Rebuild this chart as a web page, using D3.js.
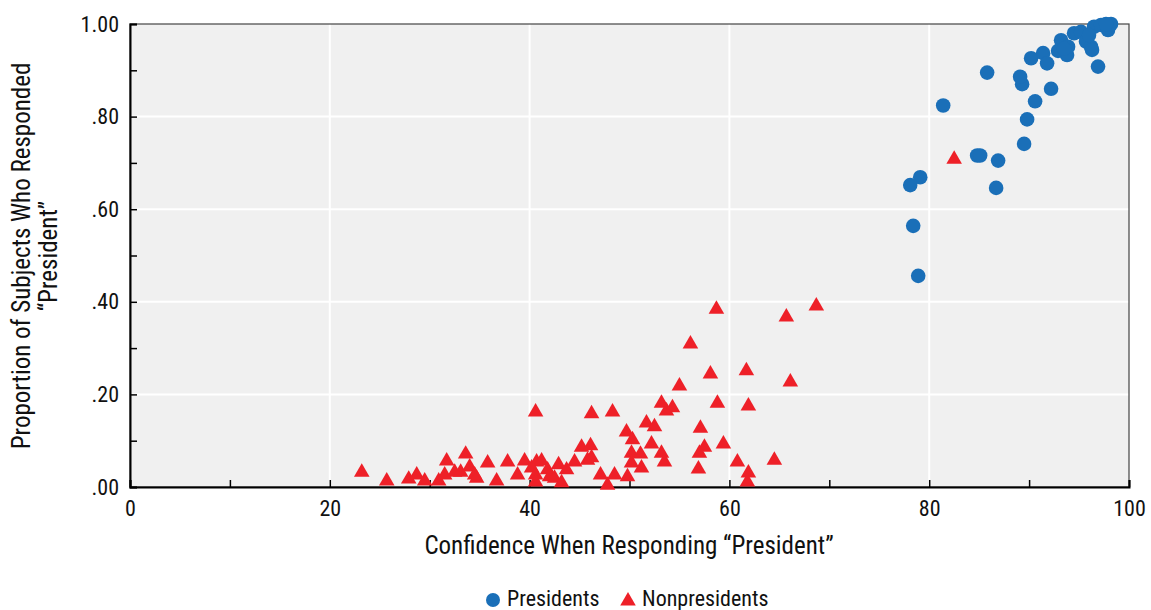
<!DOCTYPE html>
<html><head><meta charset="utf-8">
<script src="https://cdn.jsdelivr.net/npm/d3@7"></script>
<style>body{margin:0;background:#fff}svg{display:block}text{font-family:"Liberation Sans Narrow","Arial Narrow","Roboto Condensed","Liberation Sans",sans-serif;fill:#111}</style>
</head><body><svg id="c" width="1151" height="610"></svg>
<script>
const xTicks=[0,20,40,60,80,100];
const yTicks=[0,0.2,0.4,0.6,0.8,1.0];
const yTickLabels=[".00",".20",".40",".60",".80","1.00"];
const presX=[81.4,84.8,85.1,86.9,86.7,79.1,78.1,78.4,78.9,89.5,89.8,90.6,89.3,85.8,89.1,92.2,90.2,91.4,91.8,93.2,92.9,93.8,93.9,93.5,94.5,95.2,95.7,96.2,96.3,96.9,96.5,97.2,97.9,98.2,97.7,96.0];
const presY=[0.824,0.716,0.716,0.705,0.646,0.669,0.652,0.564,0.456,0.741,0.794,0.833,0.870,0.895,0.886,0.860,0.926,0.937,0.915,0.965,0.942,0.933,0.951,0.947,0.980,0.983,0.962,0.951,0.944,0.908,0.994,0.998,0.987,1.0,1.0,0.976];
const nonX=[23.2,25.7,27.9,28.7,29.5,30.9,31.5,31.7,32.5,33.1,33.6,34.0,34.5,34.7,35.8,36.7,37.8,38.8,39.5,40.2,40.6,40.7,41.2,40.6,40.6,41.8,42.0,42.9,42.5,43.2,43.7,44.5,45.2,45.8,46.1,46.2,46.2,47.1,47.8,48.3,48.5,49.7,49.8,50.2,50.3,50.2,51.1,51.2,51.7,52.2,52.5,53.2,53.2,53.5,53.7,54.3,55.0,56.1,56.9,57.0,57.1,57.5,58.1,58.7,58.8,59.4,60.8,61.7,61.9,61.9,61.8,64.5,65.7,66.1,68.7,82.5];
const nonY=[0.032,0.013,0.017,0.026,0.013,0.013,0.026,0.056,0.032,0.032,0.071,0.043,0.026,0.019,0.052,0.013,0.054,0.026,0.056,0.041,0.162,0.054,0.056,0.026,0.011,0.037,0.022,0.048,0.019,0.009,0.037,0.054,0.086,0.058,0.089,0.158,0.063,0.026,0.004,0.162,0.026,0.119,0.022,0.073,0.102,0.052,0.071,0.041,0.138,0.093,0.130,0.181,0.073,0.054,0.164,0.171,0.218,0.309,0.039,0.073,0.127,0.086,0.244,0.384,0.181,0.093,0.054,0.251,0.175,0.030,0.011,0.058,0.367,0.227,0.391,0.708];
const seriesNames=["Presidents","Nonpresidents"];
const colors=["#1a6fb8","#ee2028"];

const svg=d3.select("#c");
const L=130,R=1129,T=24,B=487;
const x=d3.scaleLinear().domain([0,100]).range([L,R]);
const y=d3.scaleLinear().domain([0,1]).range([B,T]);

svg.append("rect").attr("x",L).attr("y",T).attr("width",R-L).attr("height",B-T).attr("fill","#f0f0f0");
svg.append("g").selectAll("line").data(xTicks.filter(d=>d>0&&d<100)).join("line")
  .attr("x1",d=>x(d)).attr("x2",d=>x(d)).attr("y1",T).attr("y2",B).attr("stroke","#fff").attr("stroke-width",2);
svg.append("g").selectAll("line").data(yTicks.filter(d=>d>0&&d<1)).join("line")
  .attr("y1",d=>y(d)).attr("y2",d=>y(d)).attr("x1",L).attr("x2",R).attr("stroke","#fff").attr("stroke-width",2);
svg.append("rect").attr("x",L).attr("y",T).attr("width",R-L).attr("height",B-T).attr("fill","none").attr("stroke","#444").attr("stroke-width",1.2);

const xa=svg.append("g").attr("transform",`translate(0,${B})`)
  .call(d3.axisBottom(x).tickValues(d3.range(0,101,10)).tickSize(-7).tickPadding(13).tickFormat(d=>xTicks.includes(d)?d:""));
const ya=svg.append("g").attr("transform",`translate(${L},0)`)
  .call(d3.axisLeft(y).tickValues(d3.range(0,1.001,0.1)).tickSize(-7).tickPadding(11)
  .tickFormat(d=>{const i=yTicks.findIndex(t=>Math.abs(t-d)<1e-6);return i>=0?yTickLabels[i]:"";}));
[xa,ya].forEach(g=>{g.select(".domain").attr("stroke","#000").attr("stroke-width",2);
  g.selectAll(".tick line").attr("stroke","#000").attr("stroke-width",1.5);
  g.selectAll("text").attr("font-size",22).style("fill","#111");});

svg.append("g").selectAll("path").data(nonX.map((v,i)=>[v,nonY[i]])).join("path")
  .attr("transform",d=>`translate(${x(d[0])},${y(d[1])})`)
  .attr("d",d3.symbol(d3.symbolTriangle,105)).attr("fill",colors[1]);
svg.append("g").selectAll("circle").data(presX.map((v,i)=>[v,presY[i]])).join("circle")
  .attr("cx",d=>x(d[0])).attr("cy",d=>y(d[1])).attr("r",7.3).attr("fill",colors[0]);

svg.append("text").attr("x",629).attr("y",554).attr("text-anchor","middle").attr("font-size",25)
  .text("Confidence When Responding \u201CPresident\u201D");
const yt=svg.append("text").attr("transform","translate(0,256) rotate(-90)").attr("text-anchor","middle").attr("font-size",25);
yt.append("tspan").attr("x",0).attr("y",30).text("Proportion of Subjects Who Responded");
yt.append("tspan").attr("x",0).attr("y",57).text("\u201CPresident\u201D");

const lg=svg.append("g");
lg.append("circle").attr("cx",493).attr("cy",600).attr("r",7).attr("fill",colors[0]);
lg.append("text").attr("x",507).attr("y",606).attr("font-size",22).text(seriesNames[0]);
lg.append("path").attr("transform","translate(628,601)").attr("d",d3.symbol(d3.symbolTriangle,105)).attr("fill",colors[1]);
lg.append("text").attr("x",642).attr("y",606).attr("font-size",22).text(seriesNames[1]);
</script></body></html>
